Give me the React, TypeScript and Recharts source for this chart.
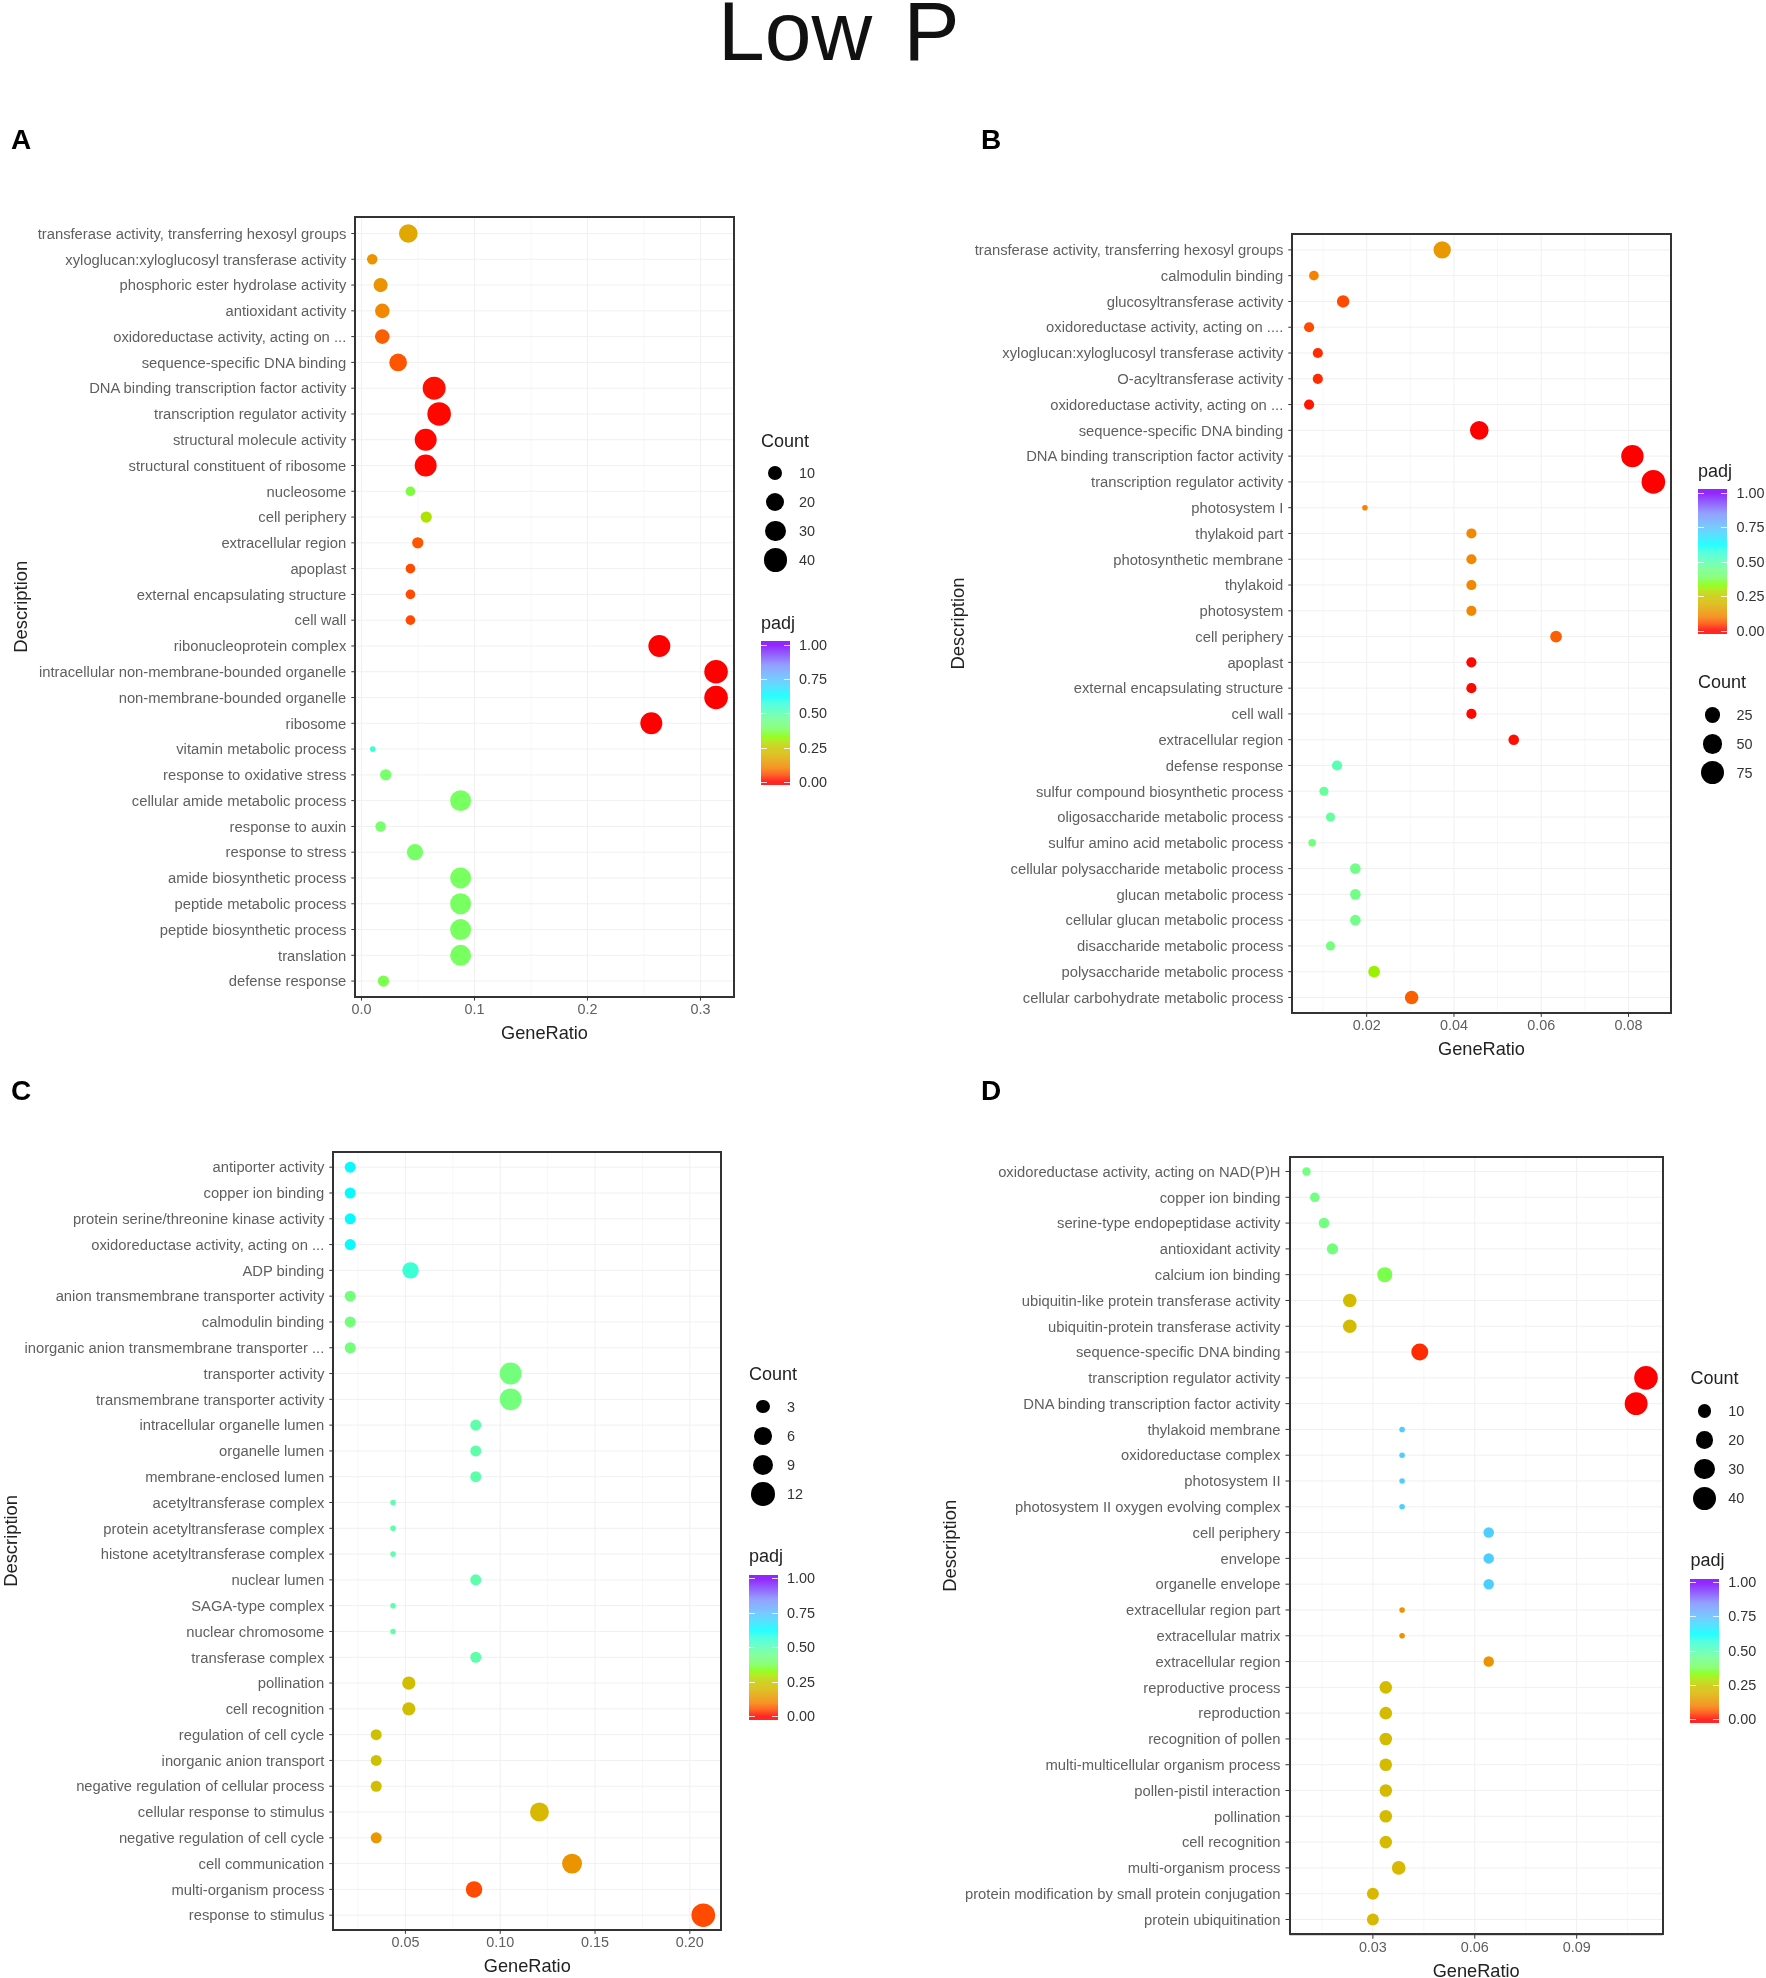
import { CartesianGrid, ScatterChart, Scatter, XAxis, YAxis } from "recharts";

// panel A
const aTerms = [
    "transferase activity, transferring hexosyl groups", "xyloglucan:xyloglucosyl transferase activity", "phosphoric ester hydrolase activity",
    "antioxidant activity", "oxidoreductase activity, acting on ...", "sequence-specific DNA binding",
    "DNA binding transcription factor activity", "transcription regulator activity", "structural molecule activity",
    "structural constituent of ribosome", "nucleosome", "cell periphery", "extracellular region", "apoplast",
    "external encapsulating structure", "cell wall", "ribonucleoprotein complex", "intracellular non-membrane-bounded organelle",
    "non-membrane-bounded organelle", "ribosome", "vitamin metabolic process", "response to oxidative stress",
    "cellular amide metabolic process", "response to auxin", "response to stress", "amide biosynthetic process",
    "peptide metabolic process", "peptide biosynthetic process", "translation", "defense response",
];
const aRatio = [0.0414, 0.0095, 0.0169, 0.0184, 0.0184, 0.0324, 0.0643, 0.0687, 0.0568, 0.0568, 0.0433, 0.0573, 0.0498, 0.0433, 0.0433, 0.0433, 0.2636, 0.3138, 0.3138, 0.2565, 0.01, 0.0214, 0.0877, 0.0169, 0.0473, 0.0877, 0.0877, 0.0877, 0.0877, 0.0194];
const aCount = [22, 4, 10, 11, 11, 19, 38, 41, 34, 34, 3, 5, 5, 3, 3, 3, 34, 41, 41, 34, 1, 5, 30, 4, 15, 30, 30, 30, 30, 5];
const aPadj = [0.17, 0.13, 0.13, 0.11, 0.07, 0.06, 0.01, 0.005, 0.005, 0.005, 0.36, 0.29, 0.06, 0.05, 0.05, 0.05, 0, 0, 0, 0, 0.56, 0.4, 0.38, 0.4, 0.39, 0.38, 0.38, 0.38, 0.38, 0.37];

// panel B
const bTerms = [
    "transferase activity, transferring hexosyl groups", "calmodulin binding", "glucosyltransferase activity",
    "oxidoreductase activity, acting on ....", "xyloglucan:xyloglucosyl transferase activity", "O-acyltransferase activity",
    "oxidoreductase activity, acting on ...", "sequence-specific DNA binding", "DNA binding transcription factor activity",
    "transcription regulator activity", "photosystem I", "thylakoid part", "photosynthetic membrane", "thylakoid", "photosystem",
    "cell periphery", "apoplast", "external encapsulating structure", "cell wall", "extracellular region", "defense response",
    "sulfur compound biosynthetic process", "oligosaccharide metabolic process", "sulfur amino acid metabolic process",
    "cellular polysaccharide metabolic process", "glucan metabolic process", "cellular glucan metabolic process",
    "disaccharide metabolic process", "polysaccharide metabolic process", "cellular carbohydrate metabolic process",
];
const bRatio = [0.0373, 0.0079, 0.0146, 0.0068, 0.0088, 0.0088, 0.0068, 0.0458, 0.0809, 0.0857, 0.0196, 0.044, 0.044, 0.044, 0.044, 0.0634, 0.044, 0.044, 0.044, 0.0537, 0.0132, 0.0102, 0.0117, 0.0075, 0.0174, 0.0174, 0.0174, 0.0117, 0.0217, 0.0303];
const bCount = [36, 7, 14, 8, 8, 8, 8, 43, 70, 80, 3, 8, 8, 8, 8, 12, 8, 8, 8, 9, 8, 6, 6, 4, 9, 9, 9, 6, 12, 18];
const bPadj = [0.14, 0.1, 0.05, 0.05, 0.03, 0.03, 0.015, 0, 0, 0, 0.1, 0.11, 0.11, 0.11, 0.11, 0.07, 0.005, 0.005, 0.005, 0.01, 0.5, 0.47, 0.47, 0.42, 0.44, 0.44, 0.44, 0.42, 0.31, 0.07];

// panel C
const cTerms = [
    "antiporter activity", "copper ion binding", "protein serine/threonine kinase activity", "oxidoreductase activity, acting on ...",
    "ADP binding", "anion transmembrane transporter activity", "calmodulin binding", "inorganic anion transmembrane transporter ...",
    "transporter activity", "transmembrane transporter activity", "intracellular organelle lumen", "organelle lumen",
    "membrane-enclosed lumen", "acetyltransferase complex", "protein acetyltransferase complex", "histone acetyltransferase complex",
    "nuclear lumen", "SAGA-type complex", "nuclear chromosome", "transferase complex", "pollination", "cell recognition",
    "regulation of cell cycle", "inorganic anion transport", "negative regulation of cellular process", "cellular response to stimulus",
    "negative regulation of cell cycle", "cell communication", "multi-organism process", "response to stimulus",
];
const cRatio = [0.0209, 0.0209, 0.0209, 0.0209, 0.0527, 0.0209, 0.0209, 0.0209, 0.1055, 0.1055, 0.0871, 0.0871, 0.0871, 0.0435, 0.0435, 0.0435, 0.0871, 0.0435, 0.0435, 0.0871, 0.0518, 0.0518, 0.0346, 0.0346, 0.0346, 0.1207, 0.0346, 0.1379, 0.0862, 0.2071];
const cCount = [2, 2, 2, 2, 5, 2, 2, 2, 10, 10, 2, 2, 2, 1, 1, 1, 2, 1, 1, 2, 3, 3, 2, 2, 2, 7, 2, 8, 5, 12];
const cPadj = [0.63, 0.63, 0.63, 0.63, 0.56, 0.42, 0.42, 0.42, 0.42, 0.42, 0.49, 0.49, 0.49, 0.49, 0.49, 0.49, 0.49, 0.49, 0.49, 0.49, 0.22, 0.22, 0.23, 0.23, 0.22, 0.2, 0.14, 0.13, 0.05, 0.05];

// panel D
const dTerms = [
    "oxidoreductase activity, acting on NAD(P)H", "copper ion binding", "serine-type endopeptidase activity", "antioxidant activity",
    "calcium ion binding", "ubiquitin-like protein transferase activity", "ubiquitin-protein transferase activity",
    "sequence-specific DNA binding", "transcription regulator activity", "DNA binding transcription factor activity",
    "thylakoid membrane", "oxidoreductase complex", "photosystem II", "photosystem II oxygen evolving complex", "cell periphery",
    "envelope", "organelle envelope", "extracellular region part", "extracellular matrix", "extracellular region",
    "reproductive process", "reproduction", "recognition of pollen", "multi-multicellular organism process",
    "pollen-pistil interaction", "pollination", "cell recognition", "multi-organism process",
    "protein modification by small protein conjugation", "protein ubiquitination",
];
const dRatio = [0.01045, 0.0129, 0.0156, 0.0181, 0.0335, 0.0232, 0.0232, 0.0438, 0.1104, 0.1075, 0.0386, 0.0386, 0.0386, 0.0386, 0.0641, 0.0641, 0.0641, 0.0386, 0.0386, 0.0641, 0.0338, 0.0338, 0.0338, 0.0338, 0.0338, 0.0338, 0.0338, 0.0376, 0.03, 0.03];
const dCount = [3, 4, 5, 6, 13, 10, 10, 18, 42, 39, 2, 2, 2, 2, 5, 5, 5, 2, 2, 5, 8, 8, 8, 8, 8, 8, 8, 10, 7, 7];
const dPadj = [0.43, 0.43, 0.43, 0.42, 0.37, 0.21, 0.21, 0.03, 0, 0, 0.72, 0.72, 0.72, 0.72, 0.72, 0.72, 0.72, 0.13, 0.13, 0.13, 0.21, 0.21, 0.21, 0.21, 0.21, 0.21, 0.21, 0.2, 0.2, 0.2];

const padjTicks = ["1.00", "0.75", "0.50", "0.25", "0.00"];

// legend colours, low padj first
const colorStops: [number, string][] = [
    [0, "#ff0000"], [0.05, "#ff4a00"], [0.1, "#f58200"], [0.15, "#e69e00"], [0.2, "#d8b800"], [0.25, "#c8c800"],
    [0.3, "#a8e800"], [0.33, "#80ff00"], [0.38, "#78ff60"], [0.45, "#70ff90"], [0.52, "#50ffc0"], [0.58, "#30ffe0"],
    [0.62, "#00ffff"], [0.7, "#40d8ff"], [0.75, "#60c0ff"], [0.85, "#8090ff"], [1, "#8000ff"],
];

const hexRgb = (h: string) => [1, 3, 5].map((i) => parseInt(h.slice(i, i + 2), 16));

function padjColor(v: number) {
    for (let i = 1; i < colorStops.length; i++) {
        const [p1, c1] = colorStops[i];
        if (v <= p1) {
            const [p0, c0] = colorStops[i - 1];
            const t = (v - p0) / (p1 - p0);
            const a = hexRgb(c0);
            const b = hexRgb(c1);
            return `rgb(${a.map((x, k) => Math.round(x + (b[k] - x) * t)).join(",")})`;
        }
    }
    return colorStops[colorStops.length - 1][1];
}

const barGradient = `linear-gradient(to top, ${colorStops.map(([p, c]) => `${c} ${2.5 + p * 95}%`).join(", ")})`;

const RMIN = 2.8;
const RMAX = 11.8;
const dotRadius = (count: number, cmin: number, cmax: number) =>
    RMIN + (RMAX - RMIN) * Math.sqrt((count - cmin) / (cmax - cmin));

const FONT = "'Liberation Sans', Arial, sans-serif";
const TEXT = "#5f5f5f";

function Panel({ terms, ratio, count, padj, chartLeft, box, rowPad, domain, ticks, minor, digits, descX, cmin, cmax, sizes, sizeLegend, padjLegend }: any) {
    const rows = terms.map((name: string, i: number) => ({ name, ratio: ratio[i], count: count[i], padj: padj[i] }));
    const w = box.r - box.l;
    const h = box.b - box.t;
    const yw = box.l - chartLeft;
    const topPad = 20;
    const rightPad = 30;
    return (
        <>
            <div style={{ position: "absolute", left: chartLeft, top: box.t - topPad }}>
                <ScatterChart width={yw + w + rightPad} height={topPad + h + 60} margin={{ top: topPad, right: rightPad, bottom: 0, left: 0 }}>
                    <CartesianGrid horizontal={false} verticalValues={minor} stroke="#f7f7f7" strokeWidth={1} />
                    <CartesianGrid stroke="#f0f0f0" strokeWidth={1} />
                    <XAxis
                        type="number"
                        dataKey="ratio"
                        domain={domain}
                        ticks={ticks}
                        height={60}
                        interval={0}
                        tickFormatter={(v: number) => v.toFixed(digits)}
                        tick={{ fontSize: 14.4, fill: TEXT }}
                        tickSize={4}
                        tickMargin={3}
                        stroke="#333"
                        label={{ value: "GeneRatio", position: "insideBottom", offset: 18, fontSize: 18.2, fill: "#222" }}
                    />
                    <YAxis
                        type="category"
                        dataKey="name"
                        scale="point"
                        reversed
                        padding={rowPad}
                        width={yw}
                        interval={0}
                        tick={{ fontSize: 14.8, fill: TEXT }}
                        tickSize={4}
                        tickMargin={5}
                        stroke="#333"
                        label={{ value: "Description", angle: -90, position: "insideLeft", offset: descX - chartLeft, textAnchor: "middle", fontSize: 18.4, fill: "#222" }}
                    />
                    <Scatter
                        data={rows}
                        isAnimationActive={false}
                        shape={(p: any) => <circle cx={p.cx} cy={p.cy} r={dotRadius(p.payload.count, cmin, cmax)} fill={padjColor(p.payload.padj)} />}
                    />
                </ScatterChart>
            </div>
            <div style={{ position: "absolute", left: box.l - 1, top: box.t - 1, width: w + 2, height: h + 2, boxSizing: "border-box", border: "2px solid #333", pointerEvents: "none" }} />

            {/* Count legend */}
            <div style={{ position: "absolute", left: sizeLegend.x, top: sizeLegend.titleY - 11, fontSize: 18, lineHeight: "22px", color: "#222" }}>Count</div>
            {sizes.map((s: number, i: number) => {
                const r = dotRadius(s, cmin, cmax);
                return (
                    <div key={s}>
                        <div style={{ position: "absolute", left: sizeLegend.dotX - r, top: sizeLegend.ys[i] - r, width: 2 * r, height: 2 * r, borderRadius: "50%", background: "#000" }} />
                        <div style={{ position: "absolute", left: sizeLegend.labelX, top: sizeLegend.ys[i] - 9, fontSize: 14.4, lineHeight: "18px", color: "#333" }}>{s}</div>
                    </div>
                );
            })}

            {/* padj legend */}
            <div style={{ position: "absolute", left: padjLegend.x, top: padjLegend.titleY - 11, fontSize: 18, lineHeight: "22px", color: "#222" }}>padj</div>
            <div style={{ position: "absolute", left: padjLegend.x, top: padjLegend.top - 3.5, width: 29, height: padjLegend.bottom - padjLegend.top + 7, background: barGradient, opacity: 0.85 }} />
            {padjTicks.map((t, i) => {
                const y = padjLegend.top + ((padjLegend.bottom - padjLegend.top) * i) / 4;
                return (
                    <div key={t}>
                        <div style={{ position: "absolute", left: padjLegend.x, top: y, width: 6, height: 1, background: "rgba(255,255,255,0.8)" }} />
                        <div style={{ position: "absolute", left: padjLegend.x + 23, top: y, width: 6, height: 1, background: "rgba(255,255,255,0.8)" }} />
                        <div style={{ position: "absolute", left: padjLegend.labelX, top: y - 9, fontSize: 14.4, lineHeight: "18px", color: "#333" }}>{t}</div>
                    </div>
                );
            })}
        </>
    );
}

const letterStyle: any = { position: "absolute", fontSize: 28, fontWeight: "bold", lineHeight: "32px", color: "#000" };

export default function App() {
    return (
        <div style={{ position: "absolute", left: 0, top: 0, width: 1766, height: 1978, overflow: "hidden", background: "#fff", fontFamily: FONT, filter: "blur(0.55px)" }}>
            <div style={{ position: "absolute", left: 718, top: -17, fontSize: 84, lineHeight: "96px", color: "#111", whiteSpace: "pre", wordSpacing: 8 }}>Low P</div>
            <div style={{ ...letterStyle, left: 11, top: 124 }}>A</div>
            <div style={{ ...letterStyle, left: 981, top: 124 }}>B</div>
            <div style={{ ...letterStyle, left: 11, top: 1075 }}>C</div>
            <div style={{ ...letterStyle, left: 981, top: 1075 }}>D</div>

            <Panel
                terms={aTerms} ratio={aRatio} count={aCount} padj={aPadj}
                chartLeft={0} box={{ l: 355.3, r: 733.7, t: 217.4, b: 997 }} rowPad={{ top: 16.5, bottom: 15.5 }}
                domain={[-0.0055, 0.3294]} ticks={[0, 0.1, 0.2, 0.3]} minor={[0.05, 0.15, 0.25]} digits={1}
                descX={20} cmin={1} cmax={41} sizes={[10, 20, 30, 40]}
                sizeLegend={{ x: 761, titleY: 441, dotX: 775.3, labelX: 799, ys: [473, 502, 531, 560] }}
                padjLegend={{ x: 761, titleY: 623, top: 644.7, bottom: 782, labelX: 799 }}
            />
            <Panel
                terms={bTerms} ratio={bRatio} count={bCount} padj={bPadj}
                chartLeft={890} box={{ l: 1292.3, r: 1670.7, t: 233.9, b: 1012.8 }} rowPad={{ top: 15.9, bottom: 15.4 }}
                domain={[0.00295, 0.08967]} ticks={[0.02, 0.04, 0.06, 0.08]} minor={[0.01, 0.03, 0.05, 0.07]} digits={2}
                descX={957} cmin={3} cmax={80} sizes={[25, 50, 75]}
                sizeLegend={{ x: 1698, titleY: 682, dotX: 1712.4, labelX: 1736.6, ys: [715, 744, 773] }}
                padjLegend={{ x: 1698, titleY: 471.4, top: 492.8, bottom: 630.5, labelX: 1736.6 }}
            />
            <Panel
                terms={cTerms} ratio={cRatio} count={cCount} padj={cPadj}
                chartLeft={0} box={{ l: 333.3, r: 721.3, t: 1152, b: 1929.8 }} rowPad={{ top: 15.2, bottom: 14.6 }}
                domain={[0.01197, 0.2166]} ticks={[0.05, 0.1, 0.15, 0.2]} minor={[0.025, 0.075, 0.125, 0.175]} digits={2}
                descX={10} cmin={1} cmax={12} sizes={[3, 6, 9, 12]}
                sizeLegend={{ x: 749, titleY: 1374, dotX: 763, labelX: 787, ys: [1406.8, 1436, 1465, 1494.2] }}
                padjLegend={{ x: 749, titleY: 1556.3, top: 1578, bottom: 1716, labelX: 787 }}
            />
            <Panel
                terms={dTerms} ratio={dRatio} count={dCount} padj={dPadj}
                chartLeft={890} box={{ l: 1289.5, r: 1662.8, t: 1156.6, b: 1934.3 }} rowPad={{ top: 14.5, bottom: 15.2 }}
                domain={[0.00545, 0.11535]} ticks={[0.03, 0.06, 0.09]} minor={[0.015, 0.045, 0.075, 0.105]} digits={2}
                descX={949.4} cmin={2} cmax={42} sizes={[10, 20, 30, 40]}
                sizeLegend={{ x: 1690.4, titleY: 1377.7, dotX: 1704.5, labelX: 1728.2, ys: [1410.8, 1439.9, 1469, 1498.1] }}
                padjLegend={{ x: 1690.4, titleY: 1560.2, top: 1582, bottom: 1719.3, labelX: 1728.2 }}
            />
        </div>
    );
}
